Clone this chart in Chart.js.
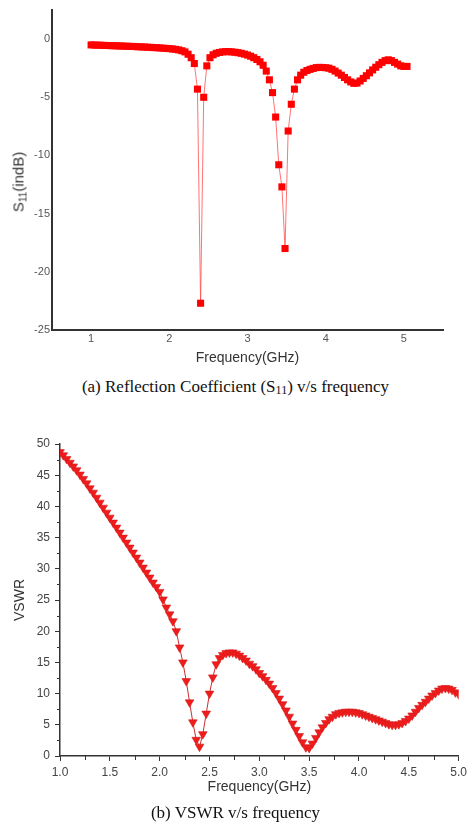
<!DOCTYPE html>
<html><head><meta charset="utf-8">
<script src="https://cdn.jsdelivr.net/npm/chart.js@4"></script>
<style>
html,body{margin:0;padding:0;background:#fff;width:471px;height:835px;overflow:hidden;position:relative;}
canvas{position:absolute;left:0;}
#cA{top:0;} #cB{top:420px;}
.cap{position:absolute;left:0;width:471px;text-align:center;font-family:"Liberation Serif","Times New Roman",serif;font-size:17px;line-height:17px;color:#111;white-space:nowrap;}
.cap sub{font-size:12px;vertical-align:-2px;line-height:0;}
#ytA{position:absolute;left:18px;top:182px;transform:translate(-50%,-50%) rotate(-90deg);font-family:"Liberation Sans",Arial,sans-serif;font-size:15px;line-height:15px;color:#333;white-space:nowrap;}
#ytA sub{font-size:10px;vertical-align:-3px;line-height:0;}
</style></head>
<body>
<canvas id="cA" width="471" height="370"></canvas>
<canvas id="cB" width="471" height="390"></canvas>
<div id="ytA">S<sub>11</sub>(indB)</div>
<div class="cap" style="top:378px;">(a) Reflection Coefficient (S<sub>11</sub>) v/s frequency</div>
<div class="cap" style="top:804px;">(b) VSWR v/s frequency</div>
<script>
// ---- Chart (a): S11 vs frequency ----
const freqA = [1.00,1.04,1.08,1.12,1.16,1.20,1.24,1.28,1.32,1.36,1.40,1.44,1.48,1.52,1.56,1.60,1.64,1.68,1.72,1.76,1.80,1.84,1.88,1.92,1.96,2.00,2.04,2.08,2.12,2.16,2.20,2.24,2.28,2.32,2.36,2.40,2.44,2.48,2.52,2.56,2.60,2.64,2.68,2.72,2.76,2.80,2.84,2.88,2.92,2.96,3.00,3.04,3.08,3.12,3.16,3.20,3.24,3.28,3.32,3.36,3.40,3.44,3.48,3.52,3.56,3.60,3.64,3.68,3.72,3.76,3.80,3.84,3.88,3.92,3.96,4.00,4.04,4.08,4.12,4.16,4.20,4.24,4.28,4.32,4.36,4.40,4.44,4.48,4.52,4.56,4.60,4.64,4.68,4.72,4.76,4.80,4.84,4.88,4.92,4.96,5.00,5.04];
const s11 = [-0.50,-0.51,-0.52,-0.53,-0.54,-0.55,-0.56,-0.57,-0.58,-0.59,-0.60,-0.61,-0.62,-0.63,-0.64,-0.66,-0.67,-0.68,-0.70,-0.71,-0.73,-0.74,-0.76,-0.78,-0.80,-0.82,-0.85,-0.88,-0.93,-1.00,-1.10,-1.30,-1.60,-2.10,-4.30,-22.7,-5.00,-2.30,-1.60,-1.35,-1.22,-1.15,-1.10,-1.08,-1.08,-1.10,-1.13,-1.17,-1.22,-1.29,-1.37,-1.47,-1.60,-1.75,-1.95,-2.25,-2.75,-3.50,-4.60,-6.70,-10.8,-12.7,-18.0,-7.90,-5.60,-4.30,-3.50,-3.10,-2.85,-2.70,-2.60,-2.52,-2.45,-2.43,-2.44,-2.46,-2.50,-2.60,-2.75,-2.92,-3.10,-3.30,-3.50,-3.68,-3.80,-3.78,-3.60,-3.38,-3.15,-2.90,-2.65,-2.42,-2.20,-2.00,-1.85,-1.78,-1.85,-2.00,-2.15,-2.30,-2.35,-2.35];
const xTicksA = [1, 2, 3, 4, 5];
const yTicksA = [-25, -20, -15, -10, -5, 0];

// ---- Chart (b): VSWR vs frequency ----
const freqB = [1.000,1.033,1.067,1.100,1.133,1.167,1.200,1.233,1.267,1.300,1.333,1.367,1.400,1.433,1.467,1.500,1.533,1.567,1.600,1.633,1.667,1.700,1.733,1.767,1.800,1.833,1.867,1.900,1.933,1.967,2.000,2.033,2.067,2.100,2.133,2.167,2.200,2.233,2.267,2.300,2.333,2.367,2.400,2.433,2.467,2.500,2.533,2.567,2.600,2.633,2.667,2.700,2.733,2.767,2.800,2.833,2.867,2.900,2.933,2.967,3.000,3.033,3.067,3.100,3.133,3.167,3.200,3.233,3.267,3.300,3.333,3.367,3.400,3.433,3.467,3.500,3.533,3.567,3.600,3.633,3.667,3.700,3.733,3.767,3.800,3.833,3.867,3.900,3.933,3.967,4.000,4.033,4.067,4.100,4.133,4.167,4.200,4.233,4.267,4.300,4.333,4.367,4.400,4.433,4.467,4.500,4.533,4.567,4.600,4.633,4.667,4.700,4.733,4.767,4.800,4.833,4.867,4.900,4.933,4.967,5.000];
const vswr = [48.7,48.2,47.6,47.0,46.4,45.8,45.1,44.4,43.7,42.9,42.2,41.4,40.6,39.8,39.0,38.2,37.4,36.6,35.8,35.0,34.2,33.4,32.6,31.8,31.0,30.2,29.4,28.6,27.8,27.1,26.3,25.1,23.8,22.7,21.6,20.0,17.4,15.0,12.0,8.6,5.4,2.6,1.5,3.5,6.8,10.0,12.6,14.7,15.7,16.2,16.5,16.6,16.6,16.4,16.1,15.7,15.3,14.8,14.4,13.9,13.3,12.8,12.2,11.6,10.9,10.1,9.2,8.3,7.3,6.3,5.2,4.2,3.2,2.2,1.4,1.3,2.0,2.9,3.8,4.6,5.3,5.9,6.3,6.7,6.9,7.0,7.1,7.1,7.1,7.0,6.9,6.7,6.5,6.3,6.1,5.9,5.7,5.5,5.3,5.1,5.0,5.0,5.1,5.3,5.6,6.0,6.5,7.1,7.7,8.2,8.7,9.2,9.7,10.1,10.5,10.8,10.9,10.8,10.6,10.2,9.9];
const xTicksB = [1.0, 1.5, 2.0, 2.5, 3.0, 3.5, 4.0, 4.5, 5.0];
const yTicksB = [0, 5, 10, 15, 20, 25, 30, 35, 40, 45, 50];

const SANS = '"Liberation Sans", Arial, sans-serif';
const setTicks = arr => s => { s.ticks = arr.map(v => ({ value: v })); };

new Chart(document.getElementById('cA'), {
  type: 'line',
  data: { datasets: [{
    data: freqA.map((x, i) => ({ x: x, y: s11[i] })),
    borderColor: 'rgba(255,70,70,0.75)', borderWidth: 1,
    pointStyle: 'rect', pointRadius: 5, pointHoverRadius: 5,
    pointBackgroundColor: '#ff0000', pointBorderWidth: 0, tension: 0
  }]},
  options: {
    responsive: false, animation: false, devicePixelRatio: 1,
    layout: { padding: { left: 0, top: 10, right: 28, bottom: 3 } },
    plugins: { legend: { display: false }, tooltip: { enabled: false } },
    scales: {
      x: { type: 'linear', min: 0.5, max: 5.5, afterBuildTicks: setTicks(xTicksA),
        afterFit: s => { s.height = 37; },
        grid: { display: false, drawTicks: false }, border: { display: true, color: '#333', width: 2 },
        ticks: { color: '#555', font: { family: SANS, size: 11 }, padding: 2, maxRotation: 0, autoSkip: false },
        title: { display: true, text: 'Frequency(GHz)', color: '#333', font: { family: SANS, size: 14 }, padding: 0 } },
      y: { type: 'linear', min: -25, max: 2.5, afterBuildTicks: setTicks(yTicksA),
        afterFit: s => { s.width = 52; },
        grid: { display: false, drawTicks: false }, border: { display: true, color: '#333', width: 2 },
        ticks: { color: '#555', font: { family: SANS, size: 11 }, padding: 2, autoSkip: false } }
    }
  }
});

const minorTicks = {
  id: 'minorTicks',
  afterDraw(chart) {
    const { ctx, scales: { x, y }, chartArea: a } = chart;
    ctx.save();
    ctx.strokeStyle = '#333'; ctx.lineWidth = 1;
    ctx.beginPath();
    for (let i = 0; i < yTicksB.length - 1; i++) {
      const py = Math.round(y.getPixelForValue((yTicksB[i] + yTicksB[i + 1]) / 2)) + 0.5;
      ctx.moveTo(a.left - 3, py); ctx.lineTo(a.left, py);
    }
    for (let i = 0; i < xTicksB.length - 1; i++) {
      const px = Math.round(x.getPixelForValue((xTicksB[i] + xTicksB[i + 1]) / 2)) + 0.5;
      ctx.moveTo(px, a.bottom); ctx.lineTo(px, a.bottom + 4);
    }
    ctx.stroke();
    ctx.restore();
  }
};

new Chart(document.getElementById('cB'), {
  type: 'line',
  data: { datasets: [{
    data: freqB.map((x, i) => ({ x: x, y: vswr[i] })),
    borderColor: '#c83030', borderWidth: 1,
    pointStyle: 'triangle', pointRotation: 180, pointRadius: 5, pointHoverRadius: 5,
    pointBackgroundColor: '#ee1c1c', pointBorderColor: '#d81818', pointBorderWidth: 0.6, tension: 0
  }]},
  options: {
    responsive: false, animation: false, devicePixelRatio: 1,
    layout: { padding: { left: 0, top: 24, right: 9, bottom: 14 } },
    plugins: { legend: { display: false }, tooltip: { enabled: false } },
    scales: {
      x: { type: 'linear', min: 1, max: 5, afterBuildTicks: setTicks(xTicksB),
        afterFit: s => { s.height = 40; },
        grid: { drawOnChartArea: false, drawTicks: true, tickLength: 5, color: '#333', tickColor: '#333' },
        border: { display: true, color: '#333', width: 1.5 },
        ticks: { color: '#444', font: { family: SANS, size: 12 }, padding: 4, maxRotation: 0, autoSkip: false,
          callback: v => Number(v).toFixed(1) },
        title: { display: true, text: 'Frequency(GHz)', color: '#333', font: { family: SANS, size: 14 }, padding: 0 } },
      y: { type: 'linear', min: 0, max: 50, afterBuildTicks: setTicks(yTicksB),
        afterFit: s => { s.width = 60; },
        grid: { drawOnChartArea: false, drawTicks: true, tickLength: 5, color: '#333', tickColor: '#333' },
        border: { display: true, color: '#333', width: 1.5 },
        ticks: { color: '#444', font: { family: SANS, size: 12 }, padding: 5, autoSkip: false },
        title: { display: true, text: 'VSWR', color: '#333', font: { family: SANS, size: 14 }, padding: { top: 12, bottom: 0 } } }
    }
  },
  plugins: [minorTicks]
});
</script>
</body></html>
